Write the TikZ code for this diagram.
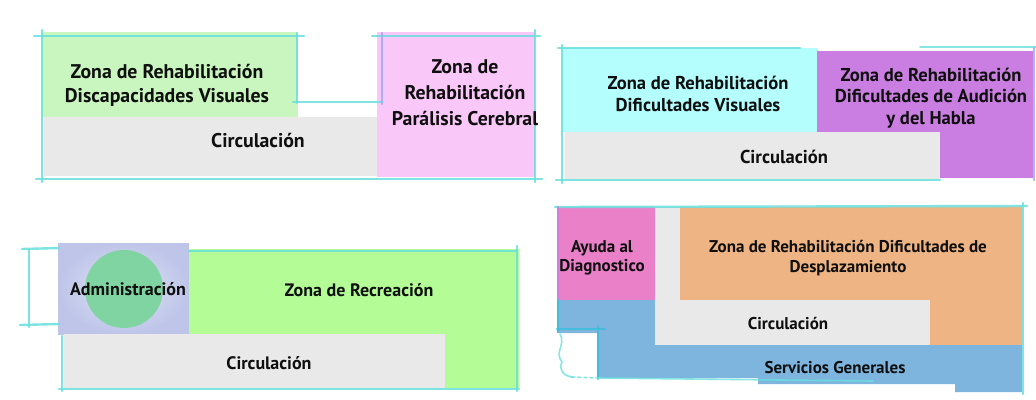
\documentclass[tikz,border=0pt]{standalone}
\usepackage{fontspec}
\setmainfont{PT Sans}
\usepackage{xcolor}
\definecolor{PlanWhite}{RGB}{255, 255, 255}
\definecolor{PlanInk}{RGB}{15, 15, 15}
\definecolor{PlanSketch}{RGB}{104, 224, 222}
\definecolor{PlanSketchBlue}{RGB}{60, 190, 220}
\definecolor{PlanLilacLine}{RGB}{160, 170, 240}
\definecolor{PlanGray}{RGB}{233, 233, 233}
\definecolor{VisGreen}{RGB}{200, 246, 190}
\definecolor{CerebralPink}{RGB}{250, 200, 248}
\definecolor{VisCyan}{RGB}{180, 254, 254}
\definecolor{AudPurple}{RGB}{203, 126, 226}
\definecolor{RecGreen}{RGB}{180, 253, 150}
\definecolor{AdmLilac}{RGB}{190, 197, 233}
\definecolor{AdmLilacLight}{RGB}{222, 226, 243}
\definecolor{AdmGreen}{RGB}{127, 212, 162}
\definecolor{AyuPink}{RGB}{234, 128, 200}
\definecolor{DespOrange}{RGB}{239, 180, 132}
\definecolor{ServBlue}{RGB}{126, 181, 222}

\begin{document}
\begin{tikzpicture}[
    x=1pt, y=-1pt,
    % Styles
    zonetext/.style={font=\bfseries\fontsize{19.8}{24}\selectfont, align=center, text=PlanInk, inner sep=0pt},
    smalltext/.style={font=\bfseries\fontsize{18.6}{21.5}\selectfont, align=center, text=PlanInk, inner sep=0pt},
    tinytext/.style={font=\bfseries\fontsize{17}{19.5}\selectfont, align=center, text=PlanInk, inner sep=0pt},
    sketch/.style={line width=2.4pt, draw=PlanSketch, line cap=round, opacity=0.85},
    sketchthin/.style={line width=1.6pt, draw=PlanSketch, line cap=round, opacity=0.8}
]

\useasboundingbox (0,0) rectangle (1036,399);
\fill[PlanWhite] (0,0) rectangle (1036,399);

% ==========================================================================================
% TOP LEFT PLAN
% ==========================================================================================

% Zones
\fill[VisGreen] (42,32) rectangle (298,117);
\fill[PlanGray] (44,117) rectangle (400,176);
\fill[CerebralPink] (377,32) rectangle (535,177);

% Sketch lines
\draw[sketch] (34,36) -- (304,36);
\draw[sketch] (372,36) -- (540,36);
\draw[sketch] (42,30) -- (42,182);
\draw[sketch] (535,30) -- (535,182);
\draw[sketch] (36,179) -- (542,179);
\draw[sketch] (297,33) -- (297,103);
\draw[sketch] (293,102) -- (382,102);
\draw[sketch, draw=PlanLilacLine] (382,33) -- (382,104);

% Labels
\node[zonetext] (vis_dis) at (167,85) {Zona de Rehabilitación\\Discapacidades Visuales};
\node[zonetext, font=\bfseries\fontsize{19.8}{26}\selectfont] (par_cer) at (465,93) {Zona de\\Rehabilitación\\Parálisis Cerebral};
\node[zonetext] (circ_a) at (258,141) {Circulación};

% ==========================================================================================
% TOP RIGHT PLAN
% ==========================================================================================

% Zones
\fill[VisCyan] (562,48) rectangle (818,132);
\fill[AudPurple] (817,51) rectangle (1033,178);
\fill[PlanGray] (565,132) rectangle (940,179);

% Sketch lines
\draw[sketch] (558,48) -- (800,48);
\draw[sketchthin] (920,47) -- (1036,47);
\draw[sketch] (562,45) -- (562,183);
\draw[sketch] (556,180) -- (940,180);
\draw[sketch, draw=PlanLilacLine] (1034,48) -- (1034,180);

% Labels
\node[smalltext] (vis_dif) at (698,94) {Zona de Rehabilitación\\Dificultades Visuales};
\node[smalltext] (aud_hab) at (931,98) {Zona de Rehabilitación\\Dificultades de Audición\\y del Habla};
\node[smalltext] (circ_b) at (784,157) {Circulación};

% ==========================================================================================
% BOTTOM LEFT PLAN
% ==========================================================================================

% Zones
\shade[inner color=AdmLilacLight, outer color=AdmLilac] (58,243) rectangle (189,334);
\fill[RecGreen] (189,249) rectangle (519,388);
\fill[PlanGray] (64,334) rectangle (445,388);
\fill[AdmGreen] (124,289) circle (39);

% Sketch lines
\draw[sketch] (22,249) -- (59,248);
\draw[sketch] (29,250) -- (29,327);
\draw[sketch] (20,325) -- (59,324);
\draw[sketch] (189,251) -- (517,251);
\draw[sketch] (517,246) -- (517,391);
\draw[sketch] (59,389) -- (519,389);
\draw[sketch] (62,336) -- (62,391);

% Labels
\node[smalltext, font=\bfseries\fontsize{18}{21}\selectfont] (adm) at (128,289) {Administración};
\node[smalltext, font=\bfseries\fontsize{18}{21}\selectfont] (rec) at (359,290) {Zona de Recreación};
\node[smalltext, font=\bfseries\fontsize{18}{21}\selectfont] (circ_c) at (269,363) {Circulación};

% ==========================================================================================
% BOTTOM RIGHT PLAN
% ==========================================================================================

% Zones
\fill[ServBlue] (557,300) -- (655,300) -- (655,345) -- (1022,345) -- (1022,392)
    -- (955,392) -- (955,384) -- (758,384) -- (758,378) -- (597,378) -- (597,333)
    -- (557,333) -- cycle;
\fill[AyuPink] (557,207) rectangle (655,300);
\fill[PlanGray] (655,207) rectangle (680,345);
\fill[PlanGray] (655,300) rectangle (930,345);
\fill[DespOrange] (680,207) rectangle (1022,300);
\fill[DespOrange] (930,300) rectangle (1022,345);

% Sketch lines
\draw[sketch] (555,207) -- (1027,206);
\draw[sketch] (1023,203) -- (1023,394);
\draw[sketch, draw=AudPurple] (558,207) -- (558,300);
\draw[sketch, draw=PlanSketchBlue] (558,300) -- (558,331);
\draw[sketch, draw=PlanSketchBlue] (557,329) -- (605,329);
\draw[sketch, draw=PlanSketchBlue] (598,326) -- (598,379);
\draw[sketchthin] (560,334) .. controls (566,345) and (554,352) .. (562,362)
    .. controls (558,370) and (564,376) .. (572,377);
\draw[sketchthin, dashed] (572,377) -- (598,378);
\draw[sketchthin] (598,378) -- (873,381);

% Labels
\node[tinytext] (ayu) at (602,258) {Ayuda al\\Diagnostico};
\node[tinytext] (desp) at (848,258) {Zona de Rehabilitación Dificultades de\\Desplazamiento};
\node[tinytext] (circ_d) at (788,323) {Circulación};
\node[tinytext] (serv) at (835,368) {Servicios Generales};

\end{tikzpicture}
\end{document}
